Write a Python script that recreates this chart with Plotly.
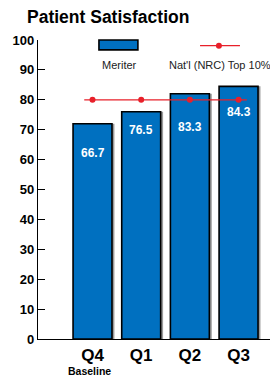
import plotly.graph_objects as go

quarters = ["Q4", "Q1", "Q2", "Q3"]
quarter_sub = ["Baseline", "", "", ""]
meriter_values = [72, 76, 82, 84.5]
meriter_labels = ["66.7", "76.5", "83.3", "84.3"]
nrc_top10 = [80, 80, 80, 80]
y_ticks = [0, 10, 20, 30, 40, 50, 60, 70, 80, 90, 100]

FONT = "Liberation Sans, Arial, Helvetica, sans-serif"
BLUE = "#0070C0"
RED = "#E8202A"

# the page body has an 8px default margin; size the figure so it fits the 278x377 window
W, H = 270, 369

xpos = list(range(len(quarters)))

fig = go.Figure()
# shadow
fig.add_trace(go.Bar(x=xpos, y=meriter_values, width=0.8, offset=-0.4 + 0.05,
                     marker=dict(color="#9a9a9a", line=dict(width=0)),
                     showlegend=False, hoverinfo="skip"))
fig.add_trace(go.Bar(x=xpos, y=meriter_values, width=0.8, offset=-0.4, name="Meriter",
                     marker=dict(color=BLUE, line=dict(color="black", width=1.6)),
                     showlegend=False))
ext = 0.17
fig.add_trace(go.Scatter(x=[xpos[0] - ext] + xpos + [xpos[-1] + ext],
                         y=[nrc_top10[0]] + nrc_top10 + [nrc_top10[-1]],
                         mode="lines", line=dict(color=RED, width=1.2),
                         showlegend=False, hoverinfo="skip"))
fig.add_trace(go.Scatter(x=xpos, y=nrc_top10, mode="markers", name="Nat'l (NRC) Top 10%",
                         marker=dict(color=RED, size=6), showlegend=False))

label_shift = [-29, -18, -33, -26]
for x, v, lab, sh in zip(xpos, meriter_values, meriter_labels, label_shift):
    fig.add_annotation(x=x, y=v, text=f"<b>{lab}</b>", showarrow=False, yshift=sh,
                       xanchor="center", yanchor="middle",
                       font=dict(family=FONT, size=12, color="white"))

# sub labels under the quarter ticks
for x, s in zip(xpos, quarter_sub):
    if s:
        fig.add_annotation(x=x, xref="x", y=-0.107, yref="paper", text=f"<b>{s}</b>",
                           showarrow=False, xanchor="center", yanchor="middle", xshift=-3,
                           font=dict(family=FONT, size=10.5, color="black"))

# manual legend
fig.add_shape(type="rect", xref="paper", yref="paper", x0=0.255, x1=0.418, y0=0.967, y1=1.0,
              fillcolor=BLUE, line=dict(color="black", width=1.6))
fig.add_annotation(xref="paper", yref="paper", x=0.339, y=0.916, text="Meriter", showarrow=False,
                   xanchor="center", yanchor="middle",
                   font=dict(family=FONT, size=11, color="#222"))
fig.add_shape(type="line", xref="paper", yref="paper", x0=0.678, x1=0.845, y0=0.981, y1=0.981,
              line=dict(color=RED, width=1.2))
fig.add_shape(type="circle", xref="paper", yref="paper", x0=0.757 - 0.0125, x1=0.757 + 0.0125,
              y0=0.981 - 0.01, y1=0.981 + 0.01, fillcolor=RED, line=dict(color=RED, width=0))
fig.add_annotation(xref="paper", yref="paper", x=0.762, y=0.916, text="Nat'l (NRC) Top 10%",
                   showarrow=False, xanchor="center", yanchor="middle",
                   font=dict(family=FONT, size=11, color="#222"))
# small end tick on x axis
fig.add_shape(type="line", xref="paper", yref="paper", x0=1, x1=1, y0=0, y1=0.025,
              line=dict(color="black", width=1.2))

fig.update_layout(
    width=W, height=H,
    margin=dict(l=30, r=1, t=32, b=38, autoexpand=False),
    paper_bgcolor="white", plot_bgcolor="white",
    barmode="overlay",
    title=dict(text="<b>Patient Satisfaction</b>", x=19 / W, xanchor="left", xref="container",
               y=1 - 9 / H, yanchor="middle", yref="container", automargin=False,
               font=dict(family=FONT, size=17.5, color="black")),
    font=dict(family=FONT),
)
fig.update_xaxes(range=[-1.12, 3.79], tickvals=xpos, ticktext=[f"<b>{q}</b>" for q in quarters],
                 showgrid=False, automargin=False,
                 showline=True, linecolor="black", linewidth=1.2, ticks="", zeroline=False,
                 tickfont=dict(family=FONT, size=17, color="black"))
fig.update_yaxes(range=[0, 100], tickvals=y_ticks, showgrid=False, zeroline=False, automargin=False,
                 showline=True, linecolor="black", linewidth=1.2, ticks="inside", ticklen=7,
                 tickcolor="black", tickwidth=1.2,
                 tickfont=dict(family=FONT, size=13, color="black", weight="bold"))

fig.write_html("out.html")
